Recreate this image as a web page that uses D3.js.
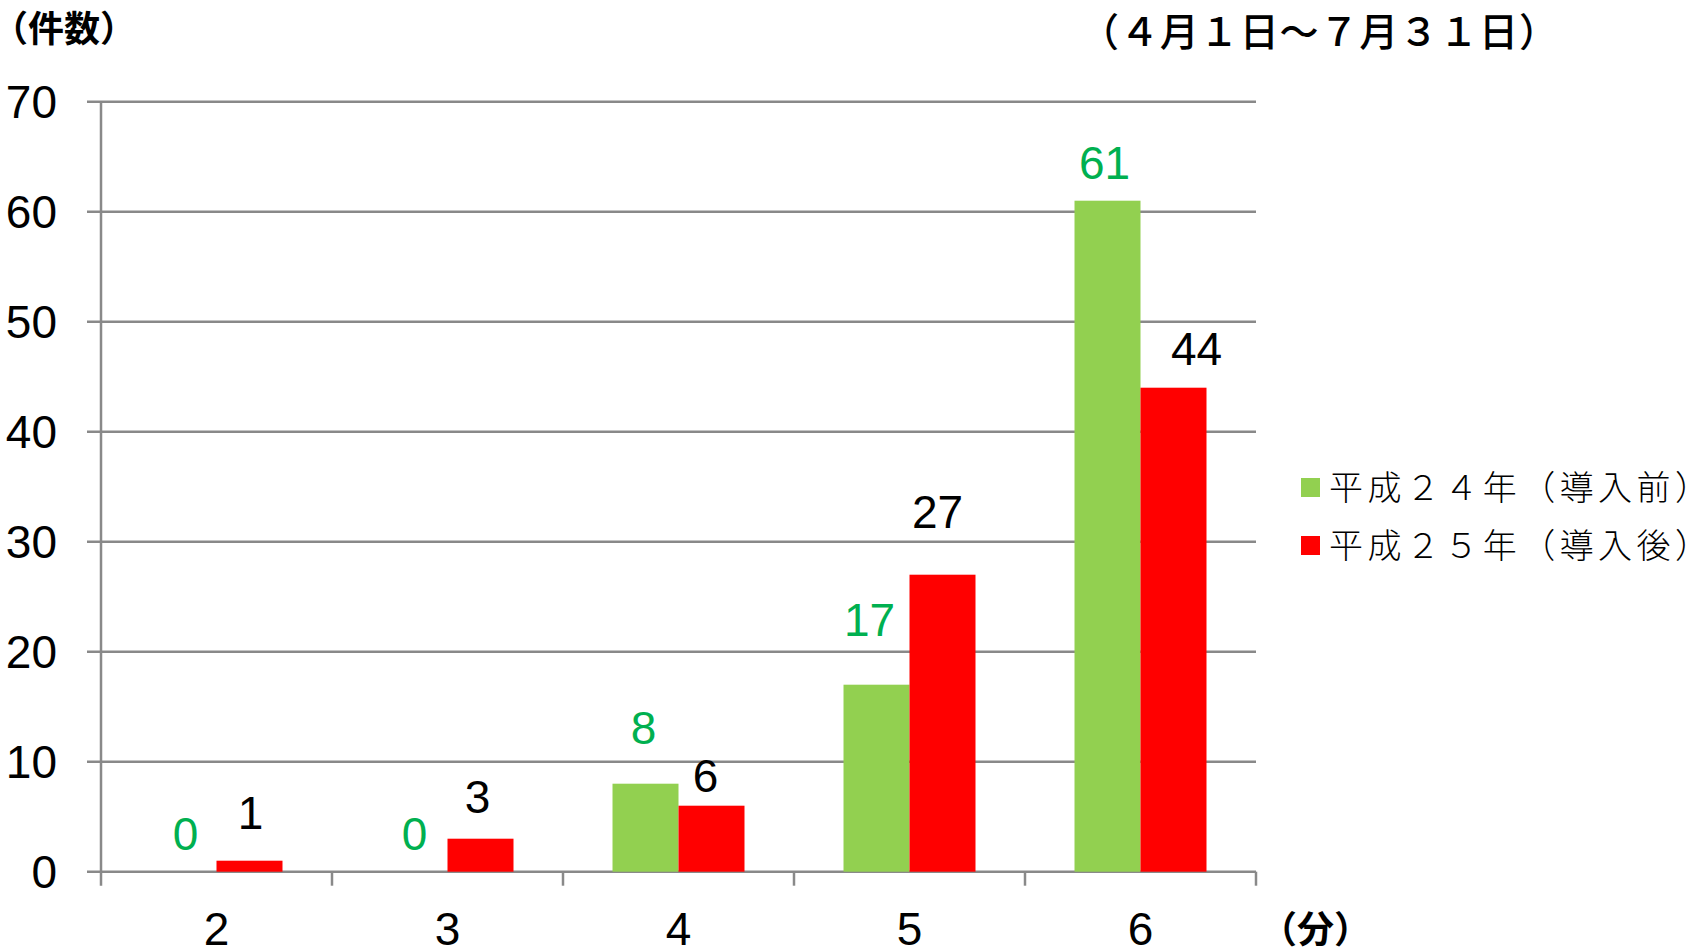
<!DOCTYPE html>
<html>
<head>
<meta charset="utf-8">
<script src="https://cdn.jsdelivr.net/npm/d3@7"></script>
<style>
    body { margin: 0; background: #fff; }
    svg text { font-family: "Liberation Sans", Arial, sans-serif; }
    .jp { font-family: "Noto Sans CJK JP", sans-serif !important; }
</style>
</head>
<body>
<svg id="chart" width="1697" height="950"></svg>
<script>
var categories = ['2', '3', '4', '5', '6'];
var seriesNames = ['平成２４年（導入前）', '平成２５年（導入後）'];
var before = [0, 0, 8, 17, 61];
var after = [1, 3, 6, 27, 44];
var yTicks = [0, 10, 20, 30, 40, 50, 60, 70];

var colors = ['#92d050', '#ff0000'];
var labelColors = ['#00b050', '#000000'];

// hand placed label nudges (dx, dy) as in the original sheet
var labelNudge = [
    [[2, 0], [0, 0], [-2, -18], [-7, -27], [-3, 0]],
    [[1, -10], [-3, -4], [-6, 8], [-5, -25], [23, -1]]
];

var margin = { top: 101.7, right: 441, bottom: 78.3, left: 101 };
var width = 1697, height = 950;
var plotWidth = width - margin.left - margin.right,
    plotHeight = height - margin.top - margin.bottom;

var svg = d3.select('#chart');
var g = svg.append('g')
    .attr('transform', 'translate(' + margin.left + ',' + margin.top + ')');

var x = d3.scaleBand()
    .domain(categories)
    .range([0, plotWidth]);

var y = d3.scaleLinear()
    .domain([0, 70])
    .range([plotHeight, 0]);

var barW = x.bandwidth() * 0.2857;
var grid = '#898989';

// gridlines (extend a little left as tick marks)
g.selectAll('.grid')
    .data(yTicks)
    .enter().append('line')
    .attr('x1', -14)
    .attr('x2', plotWidth)
    .attr('y1', function (d) { return y(d); })
    .attr('y2', function (d) { return y(d); })
    .attr('stroke', grid)
    .attr('stroke-width', 2.5);

// y axis line
g.append('line')
    .attr('x1', 0).attr('x2', 0)
    .attr('y1', 0).attr('y2', plotHeight + 14)
    .attr('stroke', grid)
    .attr('stroke-width', 2.5);

// category ticks
var bounds = categories.map(function (c) { return x(c) + x.bandwidth(); });
g.selectAll('.xtick')
    .data(bounds)
    .enter().append('line')
    .attr('x1', function (d) { return d; })
    .attr('x2', function (d) { return d; })
    .attr('y1', plotHeight)
    .attr('y2', plotHeight + 14)
    .attr('stroke', grid)
    .attr('stroke-width', 2.5);

// y tick labels
g.selectAll('.ylab')
    .data(yTicks)
    .enter().append('text')
    .attr('x', -44)
    .attr('y', function (d) { return y(d); })
    .attr('dy', '0.35em')
    .attr('text-anchor', 'end')
    .style('font-size', '46px')
    .text(function (d) { return d; });

// x tick labels
g.selectAll('.xlab')
    .data(categories)
    .enter().append('text')
    .attr('x', function (d) { return x(d) + x.bandwidth() / 2; })
    .attr('y', plotHeight + 73)
    .attr('text-anchor', 'middle')
    .style('font-size', '46px')
    .text(function (d) { return d; });

var series = [before, after];
series.forEach(function (vals, s) {
    var cx = function (i) {
        var mid = x(categories[i]) + x.bandwidth() / 2;
        return s === 0 ? mid - barW : mid;
    };
    g.selectAll('.bar' + s)
        .data(vals)
        .enter().append('rect')
        .attr('x', function (d, i) { return cx(i); })
        .attr('width', barW)
        .attr('y', function (d) { return y(d); })
        .attr('height', function (d) { return plotHeight - y(d); })
        .attr('fill', colors[s]);

    g.selectAll('.lab' + s)
        .data(vals)
        .enter().append('text')
        .attr('x', function (d, i) { return cx(i) + barW / 2 + labelNudge[s][i][0]; })
        .attr('y', function (d, i) { return y(d) - 22 + labelNudge[s][i][1]; })
        .attr('text-anchor', 'middle')
        .attr('fill', labelColors[s])
        .style('font-size', '46px')
        .text(function (d) { return d; });
});

// titles
svg.append('text')
    .attr('class', 'jp')
    .attr('x', -8).attr('y', 42)
    .style('font-size', '36px')
    .style('font-weight', 'bold')
    .text('（件数）');

svg.append('text')
    .attr('class', 'jp')
    .attr('x', 1080).attr('y', 46)
    .attr('textLength', 478)
    .attr('lengthAdjust', 'spacing')
    .style('font-size', '39px')
    .style('font-weight', '500')
    .text('（４月１日～７月３１日）');

svg.append('text')
    .attr('class', 'jp')
    .attr('x', 1260).attr('y', 943)
    .style('font-size', '37px')
    .style('font-weight', 'bold')
    .text('（分）');

// legend
var legend = svg.append('g').attr('transform', 'translate(1301,478)');
seriesNames.forEach(function (name, i) {
    var row = legend.append('g').attr('transform', 'translate(0,' + (i * 58) + ')');
    row.append('rect')
        .attr('width', 19).attr('height', 19)
        .attr('fill', colors[i]);
    row.append('text')
        .attr('class', 'jp')
        .attr('x', 28).attr('y', 9.5)
        .attr('dy', '0.36em')
        .attr('textLength', 380)
        .attr('lengthAdjust', 'spacing')
        .style('font-size', '34px')
        .style('font-weight', '300')
        .text(name);
});
</script>
</body>
</html>
